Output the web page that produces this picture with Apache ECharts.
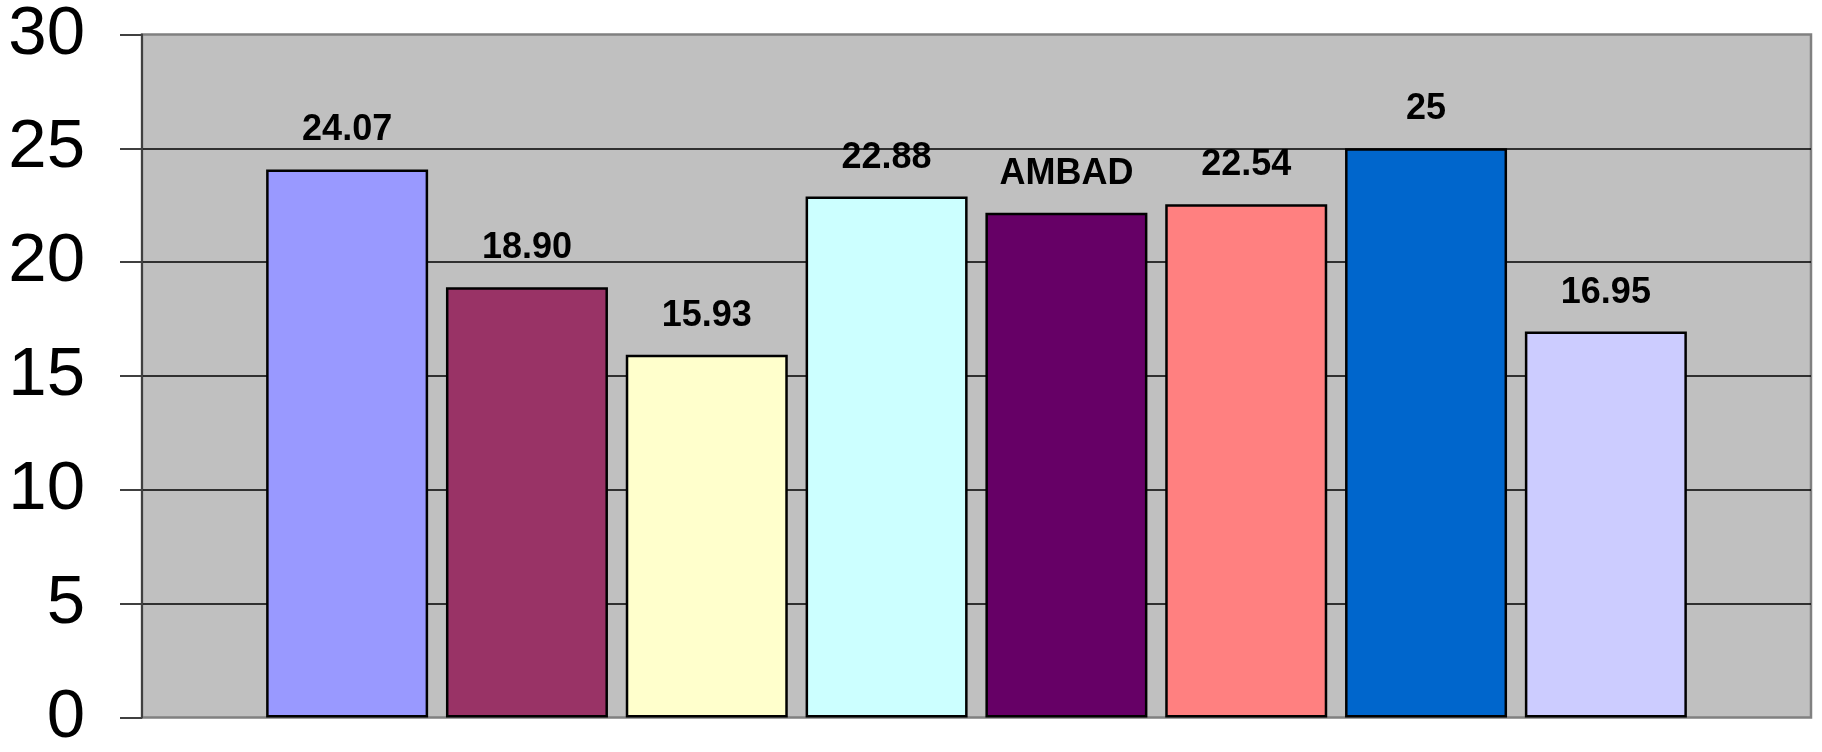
<!DOCTYPE html>
<html>
<head>
<meta charset="utf-8">
<script src="https://cdn.jsdelivr.net/npm/echarts@6/dist/echarts.min.js"></script>
<style>
  html, body { margin: 0; padding: 0; background: #ffffff; }
  #chart { width: 1822px; height: 752px; }
</style>
</head>
<body>
<div id="chart"></div>
<script>
// ---- data ----
var categories = [''];
var seriesNames = ['S1', 'S2', 'S3', 'S4', 'AMBAD', 'S6', 'S7', 'S8'];
var seriesValues = [24.07, 18.90, 15.93, 22.88, 22.17, 22.54, 25, 16.95];
var barLabels = ['24.07', '18.90', '15.93', '22.88', 'AMBAD', '22.54', '25', '16.95'];
var barColors = ['#9999FF', '#993366', '#FFFFCC', '#CCFFFF', '#660066', '#FF8080', '#0066CC', '#CCCCFF'];
var yTicks = { min: 0, max: 30, interval: 5 };

var chart = echarts.init(document.getElementById('chart'));

var series = seriesNames.map(function (name, i) {
  return {
    name: name,
    type: 'bar',
    data: [seriesValues[i]],
    barWidth: 162,
    barGap: '11%',
    itemStyle: { color: barColors[i], borderColor: '#000000', borderWidth: 2.5 },
    label: {
      show: true,
      position: 'top',
      distance: 21,
      formatter: function () { return barLabels[i]; },
      fontFamily: "'Liberation Sans', Arial, sans-serif",
      fontWeight: 'bold',
      fontSize: 36,
      color: '#000000'
    }
  };
});

chart.setOption({
  animation: false,
  backgroundColor: '#ffffff',
  grid: {
    left: 142, right: 11, top: 33, bottom: 32,
    show: true,
    backgroundColor: '#C0C0C0',
    borderColor: '#808080',
    borderWidth: 2.5
  },
  xAxis: {
    type: 'category',
    data: categories,
    axisLine: { show: false },
    axisTick: { show: false },
    axisLabel: { show: false },
    splitLine: { show: false }
  },
  yAxis: {
    type: 'value',
    min: yTicks.min,
    max: yTicks.max,
    interval: yTicks.interval,
    axisLine: { show: true, lineStyle: { color: '#404040', width: 2 } },
    axisTick: { show: true, length: 22, lineStyle: { color: '#404040', width: 2 } },
    axisLabel: {
      margin: 57,
      fontFamily: "'Liberation Sans', Arial, sans-serif",
      fontSize: 69,
      color: '#000000'
    },
    splitLine: { show: true, showMinLine: false, showMaxLine: false, lineStyle: { color: '#000000', width: 1.5 } }
  },
  series: series
});
</script>
</body>
</html>
